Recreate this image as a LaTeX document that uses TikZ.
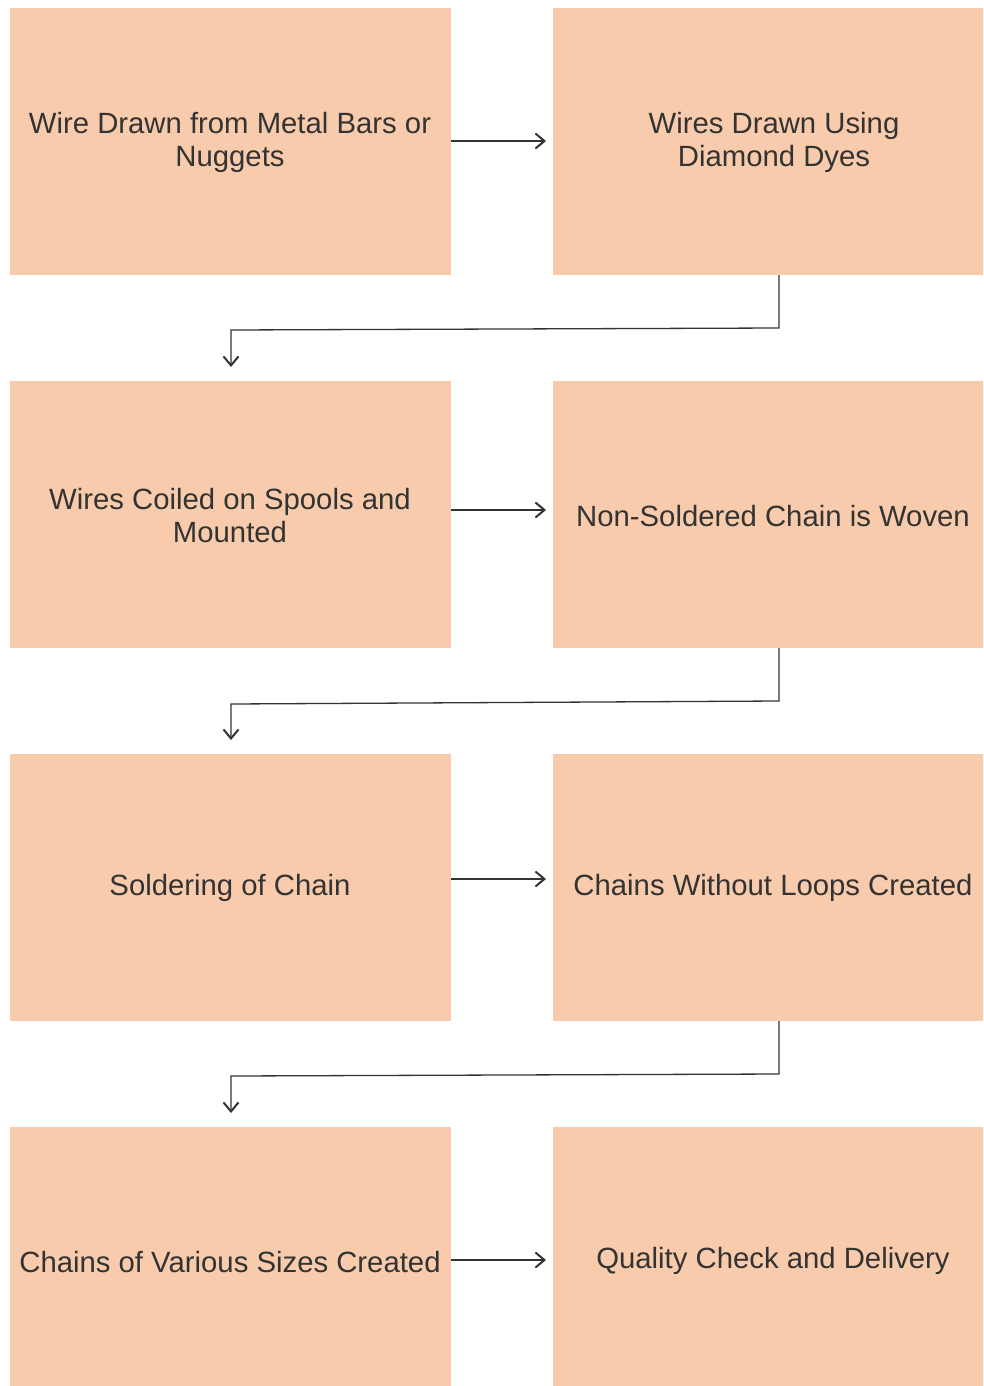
\documentclass[tikz,border=0pt]{standalone}
\usepackage{fontspec}
\setmainfont{Liberation Sans}
\usetikzlibrary{arrows.meta}
\definecolor{boxfill}{HTML}{F7CBAC}
\definecolor{ink}{HTML}{333333}
\tikzset{
  stepbox/.style={fill=boxfill, draw=none, minimum width=441pt, minimum height=267pt,
    inner sep=0pt, anchor=north west},
  lbl/.style={text=ink, font=\fontsize{29.3}{33}\selectfont, align=center},
  flow/.style={draw=ink, line width=1.3pt, -{Straight Barb[length=9pt,width=15pt,line width=2pt]}},
}
\begin{document}
\begin{tikzpicture}[x=1pt,y=-1pt]
\useasboundingbox (0,0) rectangle (983,1386);
\begin{scope}
\clip (0,0) rectangle (983,1386);
% process boxes, two columns, four rows
\node[stepbox] (b1) at (10,8) {};
\node[stepbox] (b2) at (553,8) {};
\node[stepbox] (b3) at (10,381) {};
\node[stepbox] (b4) at (553,381) {};
\node[stepbox] (b5) at (10,754) {};
\node[stepbox] (b6) at (553,754) {};
\node[stepbox] (b7) at (10,1127) {};
\node[stepbox] (b8) at (553,1127) {};
\end{scope}
% labels
\node[lbl] (t1) at (230,142.5) {Wire Drawn from Metal Bars or\\Nuggets};
\node[lbl] (t2) at (774,142.5) {Wires Drawn Using\\Diamond Dyes};
\node[lbl] (t3) at (230,516) {Wires Coiled on Spools and\\Mounted};
\node[lbl] (t4) at (773,516.5) {Non-Soldered Chain is Woven};
\node[lbl] (t5) at (230,887.5) {Soldering of Chain};
\node[lbl] (t6) at (773,887.5) {Chains Without Loops Created};
\node[lbl] (t7) at (230,1262.5) {Chains of Various Sizes Created};
\node[lbl] (t8) at (773,1260.5) {Quality Check and Delivery};
% endpoints of the connectors
\coordinate (h1) at (546,141);
\coordinate (h2) at (546,510);
\coordinate (h3) at (546,879);
\coordinate (h4) at (546,1260);
\coordinate (v1) at (231,367);
\coordinate (v2) at (231,740);
\coordinate (v3) at (231,1113);
% horizontal links
\draw[flow] (b1.east |- h1) -- (h1);
\draw[flow] (b3.east |- h2) -- (h2);
\draw[flow] (b5.east |- h3) -- (h3);
\draw[flow] (b7.east |- h4) -- (h4);
% row-to-row links
\draw[flow] (779,275) -- (779,328) -- (231,330) -- (v1);
\draw[flow] (779,648) -- (779,701) -- (231,704) -- (v2);
\draw[flow] (779,1021) -- (779,1074) -- (231,1076) -- (v3);
\end{tikzpicture}
\end{document}
